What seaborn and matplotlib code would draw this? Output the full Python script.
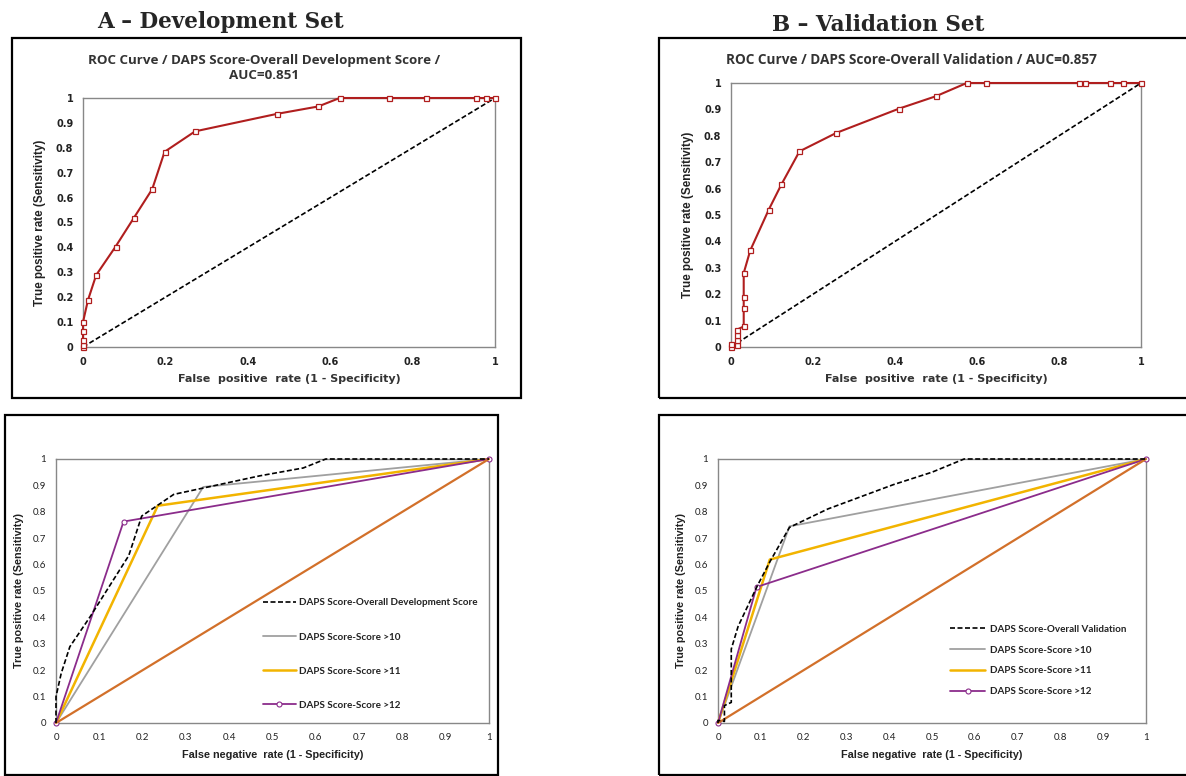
"""ROC curves for the DAPS score: development set (A) and validation set (B)."""

import matplotlib.pyplot as plt
from matplotlib.patches import Rectangle
import seaborn as sns

# ---- data -------------------------------------------------------------
DEV_FPR = [0, 0, 0, 0, 0, 0.012, 0.032, 0.079, 0.124, 0.168, 0.198, 0.272,
           0.470, 0.571, 0.623, 0.742, 0.832, 0.955, 0.978, 1.0]
DEV_TPR = [0, 0.01, 0.03, 0.065, 0.10, 0.188, 0.289, 0.403, 0.52, 0.634,
           0.784, 0.866, 0.936, 0.966, 1, 1, 1, 1, 1, 1]

VAL_FPR = [0, 0, 0.015, 0.015, 0.015, 0.015, 0.031, 0.031, 0.031, 0.031,
           0.047, 0.092, 0.123, 0.167, 0.257, 0.41, 0.5, 0.575, 0.622,
           0.848, 0.863, 0.924, 0.955, 1.0]
VAL_TPR = [0, 0.01, 0.006, 0.025, 0.044, 0.066, 0.078, 0.149, 0.189, 0.28,
           0.366, 0.52, 0.616, 0.741, 0.811, 0.903, 0.95, 1, 1, 1, 1, 1, 1, 1]

DIAG = [0, 1]

DEV_CUT_FPR = {">10": [0, 0.34, 1], ">11": [0, 0.235, 1], ">12": [0, 0.156, 1]}
DEV_CUT_TPR = {">10": [0, 0.894, 1], ">11": [0, 0.823, 1], ">12": [0, 0.763, 1]}
VAL_CUT_FPR = {">10": [0, 0.167, 1], ">11": [0, 0.121, 1], ">12": [0, 0.09, 1]}
VAL_CUT_TPR = {">10": [0, 0.745, 1], ">11": [0, 0.619, 1], ">12": [0, 0.515, 1]}

TOP_XTICKS = [0, 0.2, 0.4, 0.6, 0.8, 1]
TOP_XLABELS = ["0", "0.2", "0.4", "0.6", "0.8", "1"]
YTICKS = [0, 0.1, 0.2, 0.3, 0.4, 0.5, 0.6, 0.7, 0.8, 0.9, 1]
YLABELS = ["0", "0.1", "0.2", "0.3", "0.4", "0.5", "0.6", "0.7", "0.8", "0.9", "1"]
BOT_XTICKS = YTICKS
BOT_XLABELS = YLABELS

RED = "#B01E1E"
GRAY = "#A0A0A0"
YELLOW = "#F2B400"
PURPLE = "#8B2C8B"
ORANGE = "#D2702A"
CUT_COLORS = {">10": GRAY, ">11": YELLOW, ">12": PURPLE}

W, H = 1186, 776

sns.set_style("white")
plt.rcParams["font.family"] = ["Liberation Sans", "DejaVu Sans"]


def px_axes(fig, x0, y0, x1, y1):
    return fig.add_axes([x0 / W, 1 - y1 / H, (x1 - x0) / W, (y1 - y0) / H])


def frame(fig, x0, y0, x1, y1):
    fig.add_artist(Rectangle((x0 / W, 1 - y1 / H), (x1 - x0) / W, (y1 - y0) / H,
                             transform=fig.transFigure, fill=False,
                             edgecolor="black", linewidth=1.6, clip_on=False))


def style_axes(ax, xticks, xlabels, tick_font, tick_size, tick_weight):
    ax.set_xlim(0, 1)
    ax.set_ylim(0, 1)
    ax.set_xticks(xticks, xlabels)
    ax.set_yticks(YTICKS, YLABELS)
    for spine in ax.spines.values():
        spine.set_color("#888888")
        spine.set_linewidth(1.0)
    ax.tick_params(direction="out", length=3, width=0.8, color="#888888",
                   pad=4, labelsize=tick_size)
    for lab in ax.get_xticklabels() + ax.get_yticklabels():
        lab.set_fontfamily(tick_font)
        lab.set_fontweight(tick_weight)
        lab.set_color("#222222")


def roc_panel(ax, fpr, tpr, title, title_size):
    sns.lineplot(x=DIAG, y=DIAG, ax=ax, color="black", linestyle=(0, (3, 1.5)),
                 linewidth=1.2, sort=False, estimator=None, zorder=3)
    sns.lineplot(x=fpr, y=tpr, ax=ax, color=RED, linewidth=1.5, marker="s",
                 markersize=3.6, markerfacecolor="white", markeredgecolor=RED,
                 markeredgewidth=0.9, sort=False, estimator=None, clip_on=False,
                 zorder=4)
    style_axes(ax, TOP_XTICKS, TOP_XLABELS, "DejaVu Sans", 7, "bold")
    ax.set_title(title, x=0.44, fontfamily="Open Sans", fontweight="bold",
                 fontsize=title_size, color="#333333", pad=14, linespacing=1.2)
    ax.set_xlabel("False  positive  rate (1 - Specificity)", fontfamily="DejaVu Sans",
                  fontweight="bold", fontsize=8, color="#333333", labelpad=5)
    ax.set_ylabel("True positive rate (Sensitivity)", fontweight="bold",
                  fontsize=8.4, color="#222222", labelpad=7)


def cut_panel(ax, fpr, tpr, cut_fpr, cut_tpr, overall_label, legend_xy, spacing, hlen, tpad):
    sns.lineplot(x=fpr, y=tpr, ax=ax, color="black", linestyle=(0, (3, 1.5)),
                 linewidth=1.2, sort=False, estimator=None, label=overall_label,
                 clip_on=False, zorder=4)
    for key in [">10", ">11", ">12"]:
        extra = {}
        if key == ">12":
            extra = dict(marker="o", markersize=3.6, markerfacecolor="white",
                         markeredgecolor=PURPLE, markeredgewidth=0.8)
        lw = 1.8 if key == ">11" else 1.3
        sns.lineplot(x=cut_fpr[key], y=cut_tpr[key], ax=ax, color=CUT_COLORS[key],
                     linewidth=lw, sort=False, estimator=None, clip_on=False,
                     zorder=3, label=f"DAPS Score-Score {key}", **extra)
    sns.lineplot(x=DIAG, y=DIAG, ax=ax, color=ORANGE, linewidth=1.6,
                 sort=False, estimator=None, clip_on=False, zorder=3)
    style_axes(ax, BOT_XTICKS, BOT_XLABELS, "Lato", 7, "normal")
    ax.set_xlabel("False negative  rate (1 - Specificity)", fontweight="bold",
                  fontsize=7.8, color="#222222", labelpad=6)
    ax.set_ylabel("True positive rate (Sensitivity)", fontweight="bold",
                  fontsize=7.8, color="#222222", labelpad=6)
    leg = ax.legend(loc="center left", bbox_to_anchor=legend_xy, frameon=False,
                    borderpad=0, borderaxespad=0, labelspacing=spacing,
                    handlelength=hlen, handletextpad=tpad,
                    prop={"family": "Lato", "weight": "bold", "size": 7.1})
    for txt in leg.get_texts():
        txt.set_color("#222222")


fig = plt.figure(figsize=(W / 100, H / 100), dpi=100)

frame(fig, 12, 38, 521, 398)
frame(fig, 659, 38, 1200, 398)
frame(fig, 5, 415, 498, 775)
frame(fig, 659, 415, 1200, 775)

fig.text(220 / W, 1 - 22 / H, "A \u2013 Development Set", ha="center", va="center",
         fontfamily="DejaVu Serif", fontweight="bold", fontsize=15.5)
fig.text(878 / W, 1 - 25 / H, "B \u2013 Validation Set", ha="center", va="center",
         fontfamily="DejaVu Serif", fontweight="bold", fontsize=15.5)

ax_a = px_axes(fig, 83, 98, 495, 347)
roc_panel(ax_a, DEV_FPR, DEV_TPR,
          "ROC Curve / DAPS Score-Overall Development Score /\nAUC=0.851", 9.6)

ax_b = px_axes(fig, 731, 83, 1141, 347)
roc_panel(ax_b, VAL_FPR, VAL_TPR,
          "ROC Curve / DAPS Score-Overall Validation / AUC=0.857", 9.8)

ax_c = px_axes(fig, 56, 459, 489, 723)
cut_panel(ax_c, DEV_FPR, DEV_TPR, DEV_CUT_FPR, DEV_CUT_TPR,
          "DAPS Score-Overall Development Score", (0.478, 0.261), 2.55, 3.3, 0.35)

ax_d = px_axes(fig, 718, 459, 1146, 723)
cut_panel(ax_d, VAL_FPR, VAL_TPR, VAL_CUT_FPR, VAL_CUT_TPR,
          "DAPS Score-Overall Validation", (0.542, 0.237), 1.2, 3.6, 0.5)

fig.savefig("out.png", dpi=100)
